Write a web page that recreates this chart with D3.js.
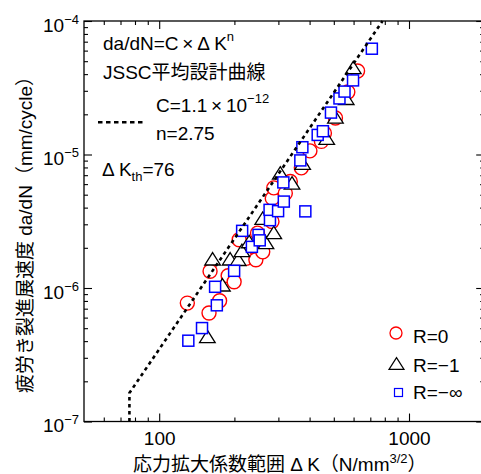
<!DOCTYPE html>
<html><head><meta charset="utf-8">
<script src="https://cdn.jsdelivr.net/npm/d3@7"></script>
<style>
body{margin:0;background:#fff}
svg{display:block}
text{font-family:"Liberation Sans",Arial,"Noto Sans CJK JP",sans-serif;fill:#000}
</style>
</head><body>
<svg id="c" width="481" height="474"></svg>
<script>
// ---- data ----
const r0K    = [129.6,158.3,174.5,159.8,188.8,199.5,209,222.9,243.8,259.7,247.5,282.8,283.6,287.5,319.8,334.9,370.7,401.1,446,458.5,507.6,568.9,622.3];
const r0Rate = [7.71e-7,6.49e-7,8.02e-7,1.334e-6,1.234e-6,1.113e-6,2.296e-6,1.668e-6,1.626e-6,1.866e-6,2.576e-6,3.147e-6,4.69e-6,5.62e-6,5.13e-6,6.27e-6,7.94e-6,1.064e-5,1.253e-5,1.443e-5,1.879e-5,2.942e-5,4.22e-5];
const rm1K    = [155.9,179.1,163.6,192.3,207.1,214.3,229.2,267.5,287.5,259.7,305.3,340.2,375.2,468.4,507.6,560.6,598.5];
const rm1Rate = [4.34e-7,1.057e-6,1.655e-6,1.655e-6,1.64e-6,1.915e-6,2.229e-6,2.198e-6,2.612e-6,3.336e-6,7.28e-6,6.13e-6,8.61e-6,1.324e-5,1.911e-5,2.637e-5,4.49e-5];
const rinfK    = [130.8,148.4,170.1,167.4,199.5,214.8,235,249.8,252.6,277.6,276.6,299.2,315.4,314,384.6,367.3,374.2,431,452.2,487.1,526.8,551.9,597,710];
const rinfRate = [4.03e-7,5.01e-7,7.42e-7,1.021e-6,1.345e-6,2.68e-6,2.033e-6,2.5e-6,2.275e-6,3.222e-6,3.85e-6,3.765e-6,4.44e-6,6.18e-6,3.75e-6,9.03e-6,1.134e-5,1.402e-5,1.494e-5,2.06e-5,2.63e-5,2.96e-5,3.59e-5,6.2e-5];

const C = 1.1e-12, nExp = 2.75, dKth = 76;
const xMajor = [100, 1000];
const xMinor = [60,70,80,90,200,300,400,500,600,700,800,900,2000];
const yMajorExp = [-4,-5,-6,-7];
const legendLabels = ["R=0","R=\u22121","R=\u2212\u221e"];

// ---- scales ----
const x = d3.scaleLog().domain([50,2000]).range([84,484.2]);
const y = d3.scaleLog().domain([1e-7,1e-4]).range([421.5,21]);
const svg = d3.select("#c");

const yMinor = [];
yMajorExp.forEach(e=>{ for(let k=2;k<=9;k++){ const v=k*Math.pow(10,e-1); if(v>=1e-7&&v<1e-4) yMinor.push(v);} });
const yMajor = yMajorExp.map(e=>Math.pow(10,e));

function styleAxis(g){ g.select(".domain").remove(); g.selectAll(".tick line").attr("stroke","#000").attr("stroke-width",1.1); }

// bottom
svg.append("g").attr("transform","translate(0,421.5)")
  .call(d3.axisBottom(x).tickValues(xMajor).tickSize(-8).tickPadding(10).tickFormat(d3.format("d")))
  .call(styleAxis).call(g=>g.selectAll("text").attr("font-size",19).attr("font-family",null));
svg.append("g").attr("transform","translate(0,421.5)")
  .call(d3.axisBottom(x).tickValues(xMinor).tickSize(-4).tickFormat("")).call(styleAxis);
// top
svg.append("g").attr("transform","translate(0,21)")
  .call(d3.axisTop(x).tickValues(xMajor).tickSize(-8).tickFormat("")).call(styleAxis);
svg.append("g").attr("transform","translate(0,21)")
  .call(d3.axisTop(x).tickValues(xMinor).tickSize(-4).tickFormat("")).call(styleAxis);
// left
svg.append("g").attr("transform","translate(84,0)")
  .call(d3.axisLeft(y).tickValues(yMajor).tickSize(-8).tickFormat("")).call(styleAxis);
svg.append("g").attr("transform","translate(84,0)")
  .call(d3.axisLeft(y).tickValues(yMinor).tickSize(-4).tickFormat("")).call(styleAxis);
// right
svg.append("g").attr("transform","translate(484.2,0)")
  .call(d3.axisRight(y).tickValues(yMajor).tickSize(-8).tickFormat("")).call(styleAxis);
svg.append("g").attr("transform","translate(484.2,0)")
  .call(d3.axisRight(y).tickValues(yMinor).tickSize(-4).tickFormat("")).call(styleAxis);

// frame
svg.append("rect").attr("x",84).attr("y",21).attr("width",400.2).attr("height",400.5)
  .attr("fill","none").attr("stroke","#000").attr("stroke-width",1.3);

// y tick labels 10^n
yMajorExp.forEach(e=>{
  const t = svg.append("text").attr("x",79).attr("y",y(Math.pow(10,e))+10.5)
    .attr("text-anchor","end").attr("font-size",19);
  t.append("tspan").text("10");
  t.append("tspan").attr("dy",-8).attr("font-size",13).text("\u2212"+Math.abs(e));
});

// axis titles
const xt = svg.append("text").attr("x",133).attr("y",471).attr("font-size",19);
xt.append("tspan").text("応力拡大係数範囲 Δ K（N/mm");
xt.append("tspan").attr("dy",-8).attr("font-size",13).text("3/2");
xt.append("tspan").attr("dy",8).text("）");

svg.append("text").attr("transform","translate(32,230) rotate(-90)")
  .attr("text-anchor","middle").attr("font-size",19)
  .text("疲労き裂進展速度 da/dN（mm/cycle）");

// design curve
const kEnd = Math.pow(1e-4/C, 1/nExp);
const curve = [[dKth,1e-7],[dKth,C*Math.pow(dKth,nExp)],[kEnd,1e-4]];
const line = d3.line().x(d=>x(d[0])).y(d=>y(d[1]));

// markers
const gPts = svg.append("g");
gPts.selectAll("circle.r0").data(d3.range(r0K.length)).join("circle")
  .attr("cx",i=>x(r0K[i])).attr("cy",i=>y(r0Rate[i])).attr("r",7)
  .attr("fill","#fff").attr("stroke","#ff0000").attr("stroke-width",1.4);
const tri = (cx,cy,hw,hh)=>`M${cx},${cy-hh}L${cx+hw},${cy+hh}L${cx-hw},${cy+hh}Z`;
gPts.selectAll("path.rm1").data(d3.range(rm1K.length)).join("path")
  .attr("d",i=>tri(x(rm1K[i]),y(rm1Rate[i]),7.8,6.2))
  .attr("fill","#fff").attr("stroke","#000").attr("stroke-width",1.3);
gPts.selectAll("rect.rinf").data(d3.range(rinfK.length)).join("rect")
  .attr("x",i=>x(rinfK[i])-5.5).attr("y",i=>y(rinfRate[i])-5.5).attr("width",11).attr("height",11)
  .attr("fill","#fff").attr("stroke","#0000ff").attr("stroke-width",1.5);

svg.append("path").attr("d",line(curve)).attr("fill","none").attr("stroke","#000")
  .attr("stroke-width",2.6).attr("stroke-dasharray","3.5,3.5");

// annotation text
const a1 = svg.append("text").attr("x",103).attr("y",50).attr("font-size",19);
a1.append("tspan").text("da/dN=C\u2009×\u2009Δ K");
a1.append("tspan").attr("dy",-9).attr("font-size",13).text("n");
svg.append("text").attr("x",103).attr("y",79).attr("font-size",19).text("JSSC平均設計曲線");
const a3 = svg.append("text").attr("x",156).attr("y",111.5).attr("font-size",19);
a3.append("tspan").text("C=1.1\u2009×\u200910");
a3.append("tspan").attr("dy",-9).attr("font-size",13).text("\u221212");
svg.append("text").attr("x",156).attr("y",140).attr("font-size",19).text("n=2.75");
svg.append("line").attr("x1",98).attr("x2",144).attr("y1",122.3).attr("y2",122.3)
  .attr("stroke","#000").attr("stroke-width",2.6).attr("stroke-dasharray","4.5,3.5");
const a5 = svg.append("text").attr("x",102).attr("y",176).attr("font-size",19);
a5.append("tspan").text("Δ K");
a5.append("tspan").attr("dy",5).attr("font-size",13).text("th");
a5.append("tspan").attr("dy",-5).text("=76");

// legend
const lg = svg.append("g");
lg.append("circle").attr("cx",396).attr("cy",333).attr("r",6).attr("fill","#fff").attr("stroke","#ff0000").attr("stroke-width",1.3);
lg.append("path").attr("d",tri(396.5,363.5,7.5,5.8)).attr("fill","#fff").attr("stroke","#000").attr("stroke-width",1.2);
lg.append("rect").attr("x",394.5).attr("y",388.5).attr("width",8).attr("height",8).attr("fill","#fff").attr("stroke","#0000ff").attr("stroke-width",1.2);
[343,371.5,399].forEach((yy,i)=>{
  lg.append("text").attr("x",413).attr("y",yy).attr("font-size",19).text(legendLabels[i]);
});
</script>
</body></html>
